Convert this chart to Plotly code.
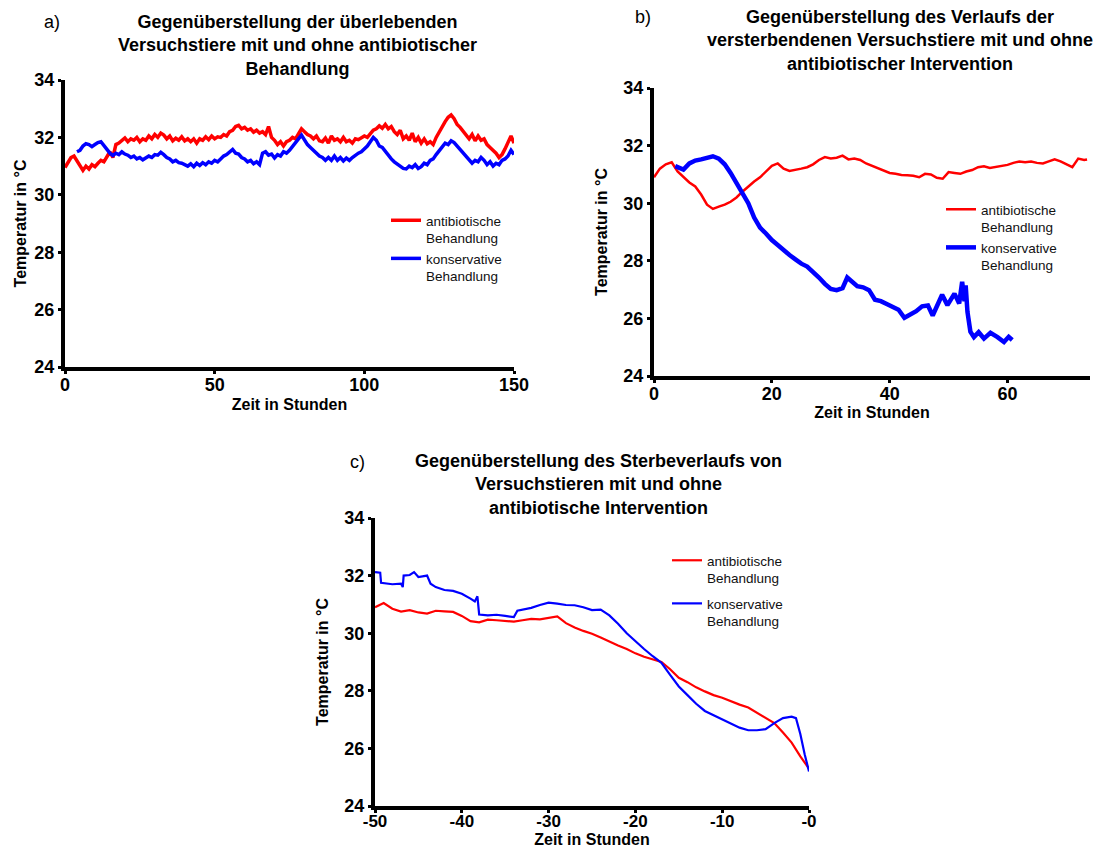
import plotly.graph_objects as go

W, H = 1106, 848

# ---------------- data ----------------
# panel a: surviving animals, hours 0..150
a_hours_red = list(range(0, 151))
a_red = [30.95, 31.15, 31.3, 31.35, 31.2, 31.05, 30.85, 31.0, 30.9, 31.05,
         30.98, 31.1, 31.2, 31.15, 31.35, 31.5, 31.3, 31.75, 31.8, 31.9,
         31.98, 31.85, 31.95, 31.9, 32.0, 31.85, 31.95, 31.9, 32.05, 31.95,
         32.1, 32.0, 32.15, 32.08, 31.95, 32.05, 31.88, 31.97, 31.9, 32.02,
         31.88, 31.95, 31.85, 31.95, 31.8, 31.95, 31.9, 32.02, 31.92, 32.05,
         31.95, 32.02, 32.0, 32.1, 32.05, 32.2, 32.25, 32.38, 32.42, 32.3,
         32.35, 32.25, 32.3, 32.18, 32.25, 32.15, 32.2, 32.1, 32.38, 32.0,
         31.9, 31.75, 31.85, 31.7, 31.85, 31.9, 32.0, 31.95, 32.15, 32.3,
         32.2, 32.1, 32.05, 31.95, 32.05, 31.88, 31.85, 31.98, 31.8, 32.05,
         31.9, 31.95, 31.85, 32.0, 31.85, 31.9, 31.8, 31.95, 31.92, 32.0,
         32.05, 32.0, 32.15, 32.25, 32.3, 32.4, 32.32, 32.45, 32.3, 32.38,
         32.2, 32.1, 32.25, 31.95, 32.05, 31.9, 32.15, 31.85, 32.0, 31.8,
         31.95, 31.78, 31.85, 31.75, 32.0, 32.2, 32.35, 32.55, 32.7, 32.78,
         32.65, 32.45, 32.35, 32.2, 32.05, 31.95, 32.1, 31.88, 32.05, 31.9,
         31.95, 31.75, 31.65, 31.55, 31.45, 31.3, 31.4, 31.6, 31.85, 32.05,
         31.8]
a_hours_blue = list(range(4, 151))
a_blue = [31.5, 31.55, 31.7, 31.78, 31.75, 31.68, 31.75, 31.82, 31.85, 31.7,
          31.6, 31.45, 31.37, 31.45, 31.4, 31.5, 31.42, 31.38, 31.3, 31.35,
          31.25, 31.3, 31.22, 31.28, 31.35, 31.3, 31.4, 31.38, 31.48, 31.4,
          31.3, 31.25, 31.15, 31.2, 31.12, 31.1, 31.05, 31.0, 31.08, 30.98,
          31.1, 31.02, 31.12, 31.05, 31.15, 31.1, 31.2, 31.15, 31.25, 31.35,
          31.4, 31.5, 31.58, 31.45, 31.42, 31.3, 31.25, 31.15, 31.2, 31.08,
          31.15, 31.05, 31.45, 31.5, 31.38, 31.42, 31.28, 31.4, 31.35, 31.5,
          31.45, 31.55, 31.7, 31.85, 31.95, 32.08, 31.9, 31.75, 31.65, 31.55,
          31.45, 31.35, 31.3, 31.2, 31.3, 31.2, 31.35, 31.2, 31.3, 31.18,
          31.28, 31.2, 31.3, 31.38, 31.45, 31.5, 31.6, 31.7, 31.85, 32.0,
          31.9, 31.7, 31.65, 31.5, 31.35, 31.25, 31.15, 31.08, 31.0, 30.92,
          30.9, 31.0, 30.95, 31.05, 30.92, 30.98, 31.1, 31.05, 31.2, 31.25,
          31.4, 31.55, 31.7, 31.8, 31.75, 31.88, 31.82, 31.7, 31.6, 31.5,
          31.35, 31.25, 31.1, 31.2, 31.15, 31.3, 31.2, 31.05, 31.15, 31.0,
          31.1, 31.05, 31.2, 31.25, 31.35, 31.55, 31.4]

# panel b: dying animals, hours from start
b_hours_red = list(range(0, 74)) + [73.5]
b_red = [30.9, 31.2, 31.35, 31.42, 31.1, 30.9, 30.72, 30.58, 30.3, 29.95,
         29.8, 29.88, 29.95, 30.05, 30.2, 30.4, 30.58, 30.75, 30.9, 31.1,
         31.3, 31.38, 31.2, 31.12, 31.15, 31.2, 31.25, 31.35, 31.5, 31.6,
         31.55, 31.58, 31.65, 31.52, 31.55, 31.5, 31.38, 31.3, 31.2, 31.12,
         31.05, 31.02, 30.98, 30.97, 30.95, 30.9, 31.02, 31.0, 30.88, 30.85,
         31.08, 31.05, 31.02, 31.1, 31.15, 31.25, 31.28, 31.22, 31.25, 31.3,
         31.33, 31.4, 31.45, 31.42, 31.45, 31.4, 31.38, 31.45, 31.52, 31.45,
         31.35, 31.25, 31.55, 31.5, 31.52]
b_hours_blue = [3.6, 4.5, 5, 6, 7, 8, 9, 10, 11, 12, 13, 14, 15, 16, 17, 18, 19,
                20, 21, 22, 23, 24, 25, 26, 27, 28, 29, 30, 31, 32, 32.8, 33.5,
                34.5, 35.5, 36.5, 37.5, 38.5, 39.5, 40.5, 41.5, 42.5, 43.5,
                44.5, 45.5, 46.5, 47.3, 48.3, 48.9, 49.8, 50.5, 51, 51.8, 52.3,
                52.7, 52.9, 53.2, 53.7, 54.3, 55.1, 56, 57.1, 58.3, 59.4, 60.2,
                60.8]
b_blue = [31.29, 31.2, 31.17, 31.38, 31.48, 31.52, 31.57, 31.63, 31.55, 31.35,
          31.05, 30.7, 30.35, 30.0, 29.5, 29.15, 28.95, 28.72, 28.55, 28.36,
          28.2, 28.05, 27.9, 27.8, 27.62, 27.42, 27.2, 27.02, 26.98, 27.05,
          27.42, 27.3, 27.12, 27.08, 26.98, 26.65, 26.6, 26.5, 26.38, 26.3,
          26.02, 26.12, 26.25, 26.42, 26.45, 26.1, 26.52, 26.82, 26.46, 26.7,
          26.86, 26.52, 27.27, 26.6, 27.15, 26.23, 25.54, 25.35, 25.52, 25.3,
          25.5, 25.35, 25.18, 25.36, 25.25]

# panel c: last 50 hours before death
c_hours_red = list(range(-50, 1))
c_red = [30.9, 31.05, 30.85, 30.75, 30.8, 30.72, 30.68, 30.78, 30.76, 30.74,
         30.6, 30.42, 30.38, 30.47, 30.45, 30.43, 30.4, 30.45, 30.5, 30.48,
         30.52, 30.58, 30.35, 30.2, 30.08, 29.98, 29.85, 29.7, 29.57, 29.45,
         29.3, 29.18, 29.1, 29.0, 28.75, 28.45, 28.3, 28.12, 27.98, 27.85,
         27.76, 27.63, 27.52, 27.42, 27.25, 27.05, 26.88, 26.55, 26.2, 25.72,
         25.3]
c_hours_blue = [-50, -49.4, -49.3, -48, -47, -46.8, -46.7, -46, -45.5, -45, -44,
                -43.6, -43, -42, -41, -40, -39, -38.5, -38.2, -38, -37, -36,
                -35, -34, -33.6, -33, -32, -31, -30, -29, -28, -27, -26, -25,
                -24, -23, -22, -21, -20, -19, -18, -17, -16, -15, -14, -13,
                -12, -11, -10, -9, -8, -7, -6, -5, -4, -3, -2, -1.5, -1, -0.5,
                0]
c_blue = [32.12, 32.1, 31.75, 31.7, 31.72, 31.6, 32.0, 32.02, 32.12, 31.95,
          32.0, 31.72, 31.6, 31.5, 31.47, 31.37, 31.2, 31.1, 31.28, 30.65,
          30.62, 30.64, 30.6, 30.56, 30.78, 30.82, 30.88, 30.98, 31.06, 31.03,
          30.98, 30.97, 30.9, 30.8, 30.82, 30.62, 30.33, 30.0, 29.72, 29.45,
          29.2, 28.97, 28.55, 28.15, 27.85, 27.55, 27.3, 27.15, 27.0, 26.85,
          26.72, 26.63, 26.63, 26.67, 26.88, 27.05, 27.1, 27.05, 26.5, 25.8,
          25.2]

name_red = "antibiotische<br>Behandlung"
name_blue = "konservative<br>Behandlung"

titles = [
    "Gegenüberstellung der überlebenden<br>Versuchstiere mit und ohne antibiotischer<br>Behandlung",
    "Gegenüberstellung des Verlaufs der<br>versterbendenen Versuchstiere mit und ohne<br>antibiotischer Intervention",
    "Gegenüberstellung des Sterbeverlaufs von<br>Versuchstieren mit und ohne<br>antibiotische Intervention",
]
panel_letters = ["a)", "b)", "c)"]
y_ticks = [24, 26, 28, 30, 32, 34]
xa_ticks = [0, 50, 100, 150]
xb_ticks = [0, 20, 40, 60]
xc_ticks = [-50, -40, -30, -20, -10, 0]
xc_ticktext = ["-50", "-40", "-30", "-20", "-10", "-0"]

RED = "#ff0000"
BLUE = "#0000ff"
FONT = "Liberation Sans, Arial, Helvetica, sans-serif"

def px_x(v):
    return v / W

def px_y(v):
    return 1 - v / H

fig = go.Figure()

# panel a
fig.add_trace(go.Scatter(x=a_hours_red, y=a_red, mode="lines", name=name_red,
                         line=dict(color=RED, width=3.5), xaxis="x", yaxis="y",
                         legend="legend"))
fig.add_trace(go.Scatter(x=a_hours_blue, y=a_blue, mode="lines", name=name_blue,
                         line=dict(color=BLUE, width=3.5), xaxis="x", yaxis="y",
                         legend="legend"))
# panel b
fig.add_trace(go.Scatter(x=b_hours_red, y=b_red, mode="lines", name=name_red,
                         line=dict(color=RED, width=2.5), xaxis="x2", yaxis="y2",
                         legend="legend2"))
fig.add_trace(go.Scatter(x=b_hours_blue, y=b_blue, mode="lines", name=name_blue,
                         line=dict(color=BLUE, width=4.5), xaxis="x2", yaxis="y2",
                         legend="legend2"))
# panel c
fig.add_trace(go.Scatter(x=c_hours_red, y=c_red, mode="lines", name=name_red,
                         line=dict(color=RED, width=2.2), xaxis="x3", yaxis="y3",
                         legend="legend3", legendgroup="r"))
fig.add_trace(go.Scatter(x=c_hours_blue, y=c_blue, mode="lines", name=name_blue,
                         line=dict(color=BLUE, width=2.2), xaxis="x3", yaxis="y3",
                         legend="legend3", legendgroup="b"))

axis_common = dict(showgrid=False, zeroline=False, showline=True, linecolor="black",
                   linewidth=4, ticks="outside", ticklen=3, tickwidth=3,
                   tickcolor="black", automargin=False)
tick_font = dict(family=FONT, size=18, color="black", weight="bold")
tick_font_c = dict(family=FONT, size=17, color="black", weight="bold")

def xtitle(standoff):
    return dict(text="<b>Zeit in Stunden</b>",
                font=dict(family=FONT, size=16, color="black"), standoff=standoff)

def ytitle(standoff):
    return dict(text="<b>Temperatur in °C</b>",
                font=dict(family=FONT, size=16, color="black"), standoff=standoff)

boxes = {
    "a": (65, 514, 80, 367),
    "b": (654, 1090, 88, 376),
    "c": (375, 809, 518, 806),
}

def dom(key):
    x0, x1, y0, y1 = boxes[key]
    return [px_x(x0), px_x(x1)], [px_y(y1), px_y(y0)]

da = dom("a"); db = dom("b"); dc = dom("c")

leg_common = dict(xanchor="left", yanchor="top", bgcolor="rgba(0,0,0,0)",
                  font=dict(family=FONT, size=13.5, color="#111"),
                  itemwidth=30, valign="top")

layout = dict(
    width=W, height=H, margin=dict(l=0, r=0, t=0, b=0),
    paper_bgcolor="white", plot_bgcolor="white",
    font=dict(family=FONT, color="black"),
    xaxis=dict(domain=da[0], range=[0, 150], tickvals=xa_ticks, anchor="y",
               title=xtitle(6), ticklabelstandoff=-5, tickfont=tick_font, **axis_common),
    yaxis=dict(domain=da[1], range=[24, 34], tickvals=y_ticks, anchor="x",
               title=ytitle(5), tickfont=tick_font, **axis_common),
    xaxis2=dict(domain=db[0], range=[0, 74], tickvals=xb_ticks, anchor="y2",
                title=xtitle(1), ticklabelstandoff=-5, tickfont=tick_font, **axis_common),
    yaxis2=dict(domain=db[1], range=[24, 34], tickvals=y_ticks, anchor="x2",
                title=ytitle(13), tickfont=tick_font, **axis_common),
    xaxis3=dict(domain=dc[0], range=[-50, 0], tickvals=xc_ticks, ticktext=xc_ticktext,
                anchor="y3", title=xtitle(6), ticklabelstandoff=-6, tickfont=tick_font_c,
                **axis_common),
    yaxis3=dict(domain=dc[1], range=[24, 34], tickvals=y_ticks, anchor="x3",
                title=ytitle(13), tickfont=tick_font, **axis_common),
    legend=dict(x=px_x(386), y=px_y(205), tracegroupgap=0, **leg_common),
    legend2=dict(x=px_x(941), y=px_y(194), tracegroupgap=0, **leg_common),
    legend3=dict(x=px_x(667), y=px_y(545), tracegroupgap=5, **leg_common),
    showlegend=True,
)
fig.update_layout(**layout)

title_pos = [(297, 10), (900, 5), (598, 449)]
letter_pos = [(42, 22), (633, 17), (348, 462)]
for t, (cx, ty) in zip(titles, title_pos):
    fig.add_annotation(text="<b>" + t + "</b>", xref="paper", yref="paper",
                       x=px_x(cx), y=px_y(ty), xanchor="center", yanchor="top",
                       showarrow=False, align="center",
                       font=dict(family=FONT, size=18, color="black"))
for t, (lx, ly) in zip(panel_letters, letter_pos):
    fig.add_annotation(text=t, xref="paper", yref="paper",
                       x=px_x(lx), y=px_y(ly), xanchor="left", yanchor="middle",
                       showarrow=False, font=dict(family=FONT, size=18, color="black"))

fig.write_html("out.html")
